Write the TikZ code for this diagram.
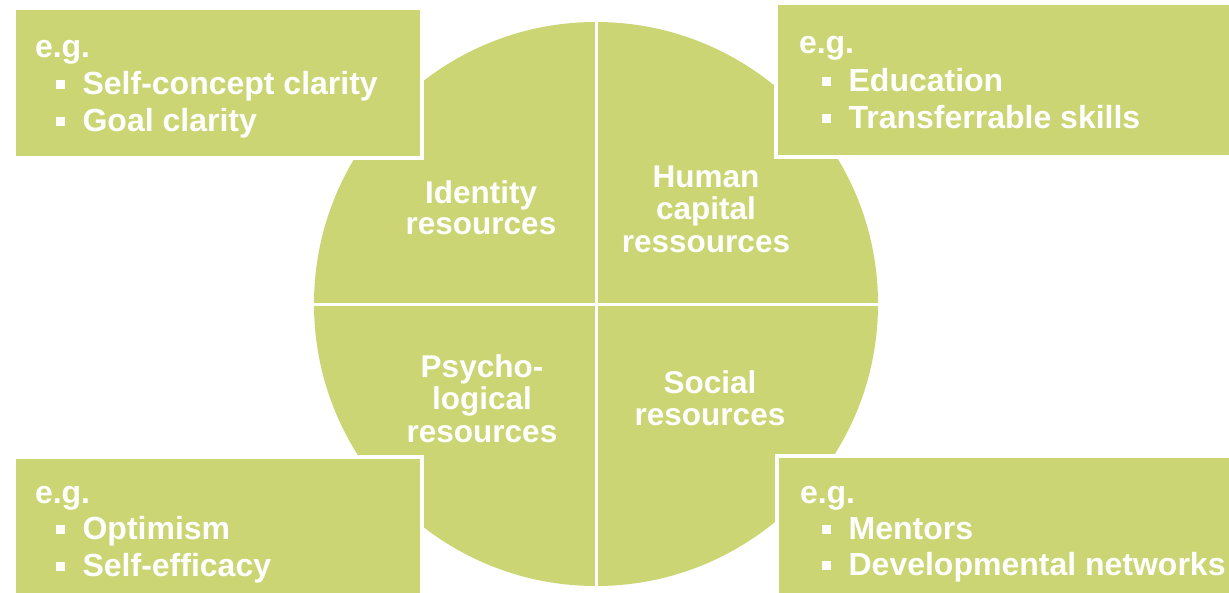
\documentclass[tikz,border=0pt]{standalone}
\usepackage{fontspec}
\setmainfont{Liberation Sans}
\usetikzlibrary{positioning}

\definecolor{leaf}{RGB}{203,213,115}
\newcommand{\sqbul}{\raisebox{5.5pt}{\rule{8.6pt}{8.6pt}}\hspace{18pt}}

\begin{document}
\begin{tikzpicture}[ x=1pt, y=-1pt,
	every node/.style={inner sep=0pt, outer sep=0pt, text=white,
		font=\fontsize{31.5}{31.5}\selectfont\bfseries},
	exbox/.style={fill=leaf, draw=white, line width=4pt, anchor=north west},
	lbl/.style={anchor=base},
	eg/.style={anchor=base west, font=\fontsize{32}{32}\selectfont\bfseries},
	item/.style={anchor=base west, execute at begin node=\sqbul,
		font=\fontsize{32}{32}\selectfont\bfseries} ]
	\useasboundingbox (0,0) rectangle (1229,592);
	% circle in four parts
	\coordinate (c) at (596,304);
	\fill[leaf] (c) circle (282);
	\draw[white, line width=3pt] (c) ++(0,-284) -- ++(0,568);
	\draw[white, line width=3pt] (c) ++(-284,0) -- ++(568,0);
	\foreach \n/\x/\y/\t in {id1/481/203/Identity, id2/481/234/resources,
		hc1/706/187/Human, hc2/706/219/capital, hc3/706/252/ressources,
		ps1/482/377/Psycho-, ps2/482/409/logical, ps3/482/442/resources,
		so1/710/393/Social, so2/710/425/resources}
		\node[lbl] (\n) at (\x,\y) {\t};
	% example boxes
	\node[exbox, minimum width=408, minimum height=150] (tlbox) at (14,8) {};
	\node[exbox, minimum width=470, minimum height=154] (trbox) at (776,3) {};
	\node[exbox, minimum width=408, minimum height=150] (blbox) at (14,457) {};
	\node[exbox, minimum width=470, minimum height=150] (brbox) at (777,456) {};
	\foreach \n/\x/\y in {tleg/35/57, treg/799/53, bleg/35/503, breg/800/503}
		\node[eg] (\n) at (\x,\y) {e.g.};
	\foreach \n/\x/\y/\t in {tla/56/94/Self-concept clarity, tlb/56/131/Goal clarity,
		tra/822/91/Education, trb/822/128/Transferrable skills,
		bla/56/539/Optimism, blb/56/576/Self-efficacy,
		bra/822/539/Mentors, brb/822/575/Developmental networks}
		\node[item] (\n) at (\x,\y) {\t};
\end{tikzpicture}
\end{document}
